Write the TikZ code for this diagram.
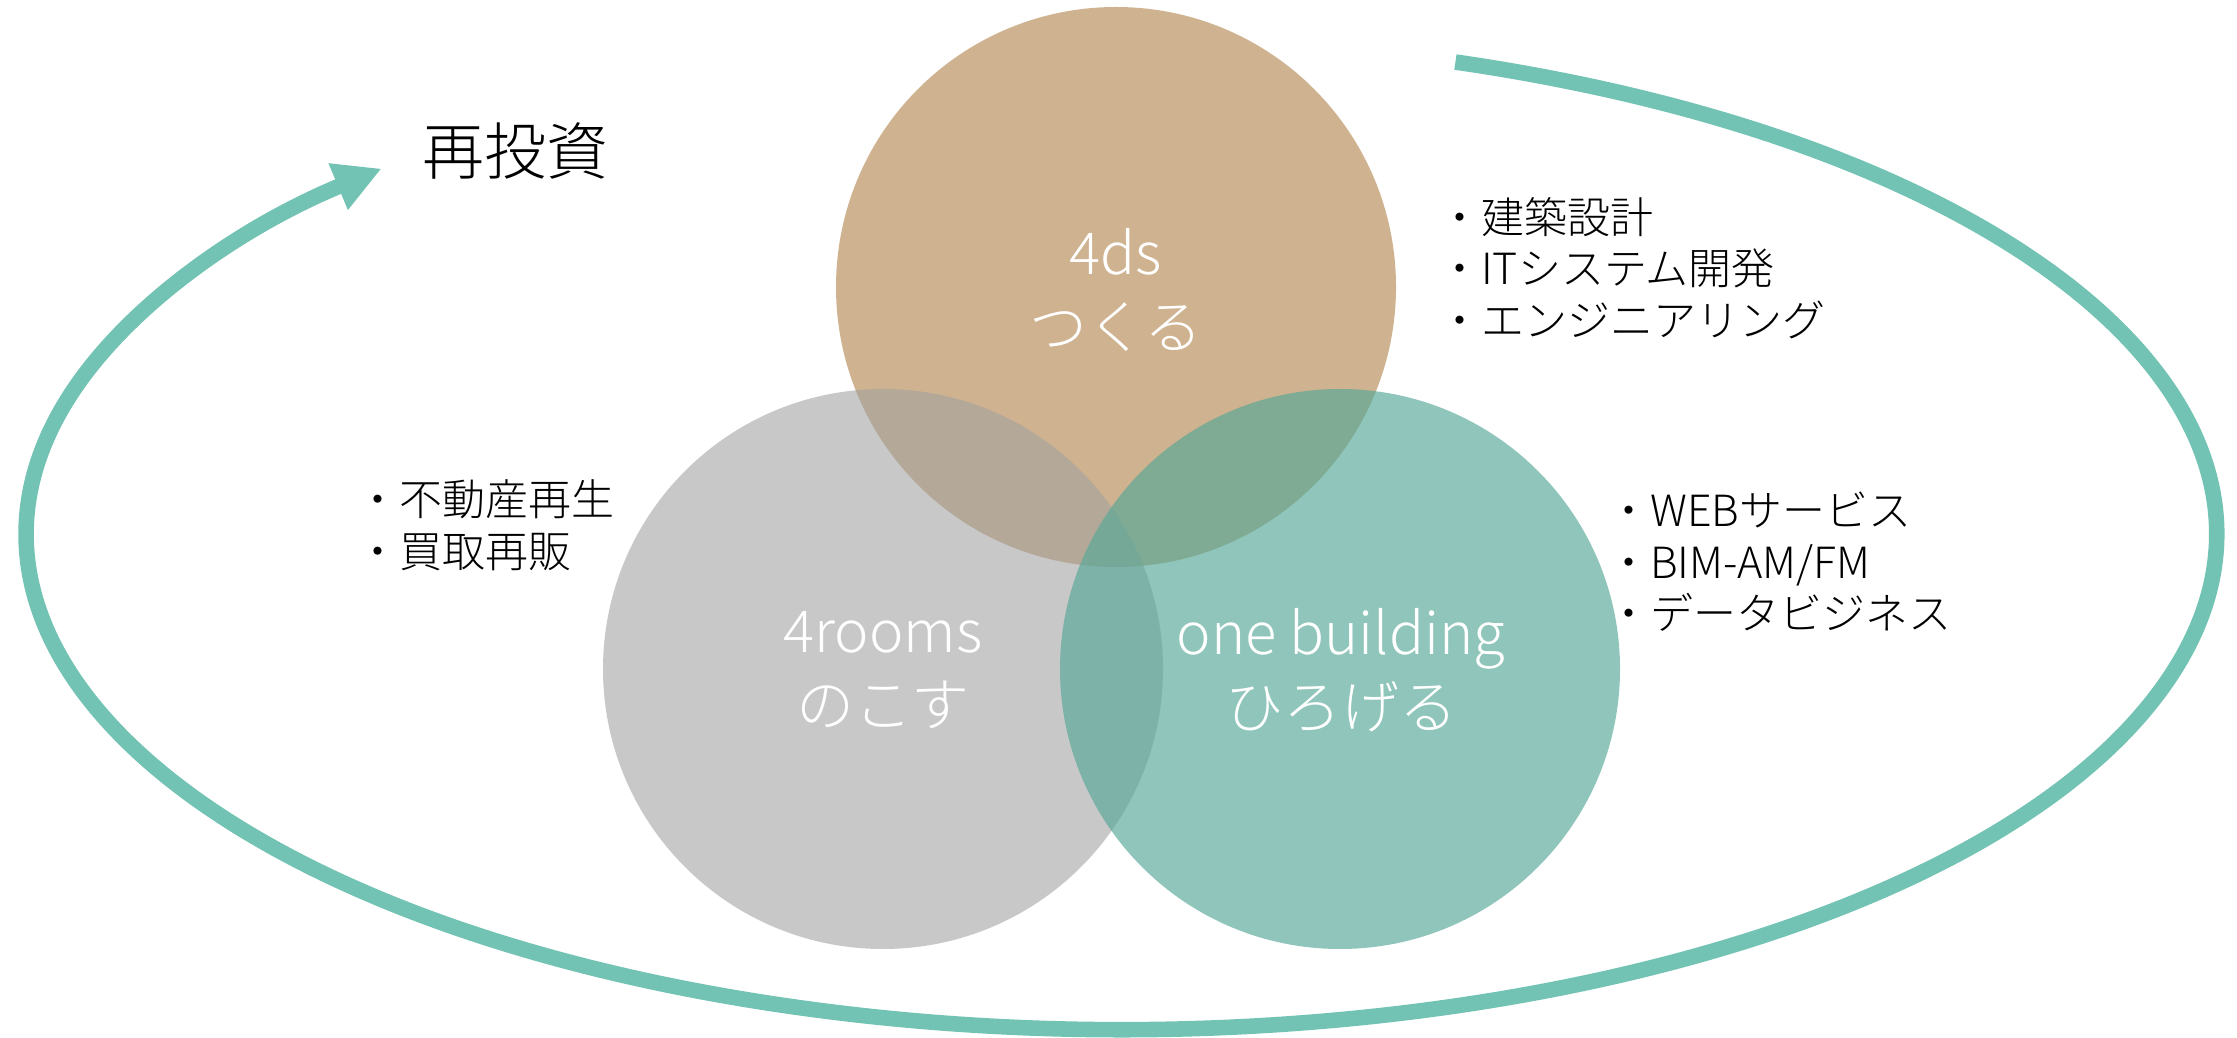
\documentclass[tikz,border=0pt]{standalone}
\usepackage{fontspec}
\setmainfont{Noto Sans CJK JP}[UprightFont={* Light}]
\usetikzlibrary{arrows.meta,calc}
\definecolor{tanc}{RGB}{207,178,144}
\definecolor{grayc}{RGB}{161,161,161}
\definecolor{tealc}{RGB}{87,168,151}
\definecolor{loopc}{RGB}{114,195,179}
\tikzset{
  venn/.style={circle, minimum size=560pt, inner sep=0pt, draw=none},
  lbl/.style={text=white, inner sep=0pt, align=center, font=\fontsize{58}{74}\selectfont},
  lst/.style={anchor=west, inner sep=0pt, align=left, text=black, font=\fontsize{43}{51.5}\selectfont},
  loop/.style={draw=loopc, line width=15.6pt, -{Triangle[length=47pt,width=47pt,fill=loopc]}},
}
\begin{document}
\begin{tikzpicture}[x=1pt,y=1pt]
\useasboundingbox (0,0) rectangle (2237,1037);
% cycle
\coordinate (ellc) at (1121.4,503);
\draw[loop] ([shift={(72.24:1095.1 and 495.6)}]ellc) arc[start angle=72.24, end angle=-227.5, x radius=1095.1, y radius=495.6];
% venn circles
\node[venn, fill=tanc] (top) at (1116,750) {};
\node[venn, fill=grayc, fill opacity=0.583] (lft) at (883,368) {};
\node[venn, fill=tealc, fill opacity=0.667] (rgt) at (1340,368) {};
% labels
\node[lbl] (l4ds) at (1116,747.4) {4ds\\つくる};
\node[lbl] (l4rooms) at (883,366.5) {4rooms\\のこす};
\node[lbl] (lone) at (1341,366.5) {one building\\ひろげる};
% lists
\node[lst] (ls1) at (1438,769) {・建築設計\\・ITシステム開発\\・エンジニアリング};
\node[lst] (ls2) at (1607,475) {・WEBサービス\\・BIM-AM/FM\\・データビジネス};
\node[lst] (ls3) at (356,512) {・不動産再生\\・買取再販};
\node[inner sep=0pt, font=\fontsize{62}{70}\selectfont] (reinv) at (515.5,885.5) {再投資};
\end{tikzpicture}
\end{document}
